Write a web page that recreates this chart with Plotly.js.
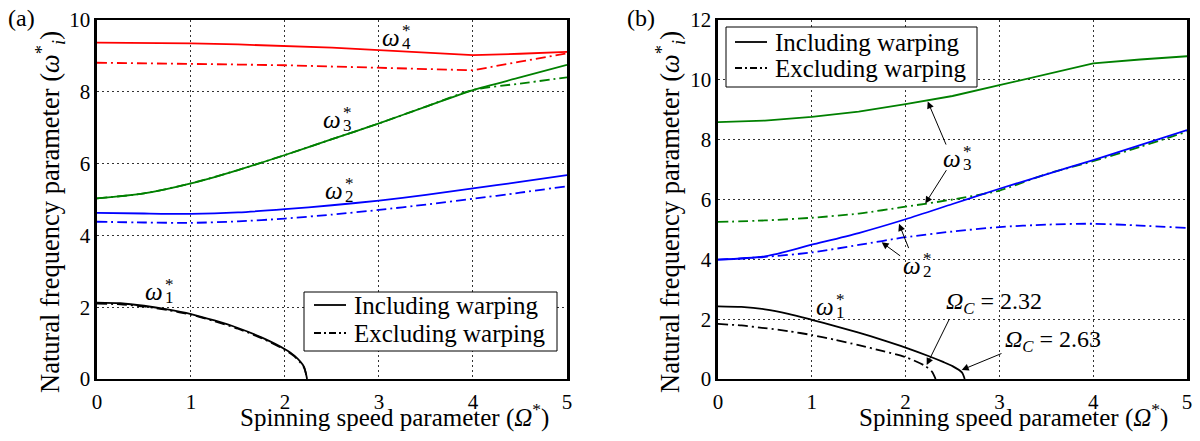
<!DOCTYPE html>
<html>
<head>
<meta charset="utf-8">
<script src="https://cdn.plot.ly/plotly-3.0.1.min.js"></script>
<style>html,body{margin:0;padding:0;background:#fff;}#chart{width:1200px;height:441px;}</style>
</head>
<body>
<div id="chart"></div>
<script>
// ---------- data ----------
const omega = [0, 0.5, 1, 1.5, 2, 2.5, 3, 3.5, 4, 4.5, 5];

// (a)
const w4IncA = [9.37, 9.37, 9.35, 9.32, 9.28, 9.23, 9.16, 9.09, 9.02, 9.06, 9.11];
const w4ExcA = [8.81, 8.80, 8.78, 8.76, 8.74, 8.71, 8.67, 8.64, 8.60, 8.84, 9.07];
const w3IncA = [5.03, 5.17, 5.45, 5.82, 6.24, 6.68, 7.12, 7.59, 8.05, 8.40, 8.75];
const w3ExcA = [5.03, 5.17, 5.45, 5.82, 6.24, 6.68, 7.12, 7.59, 8.05, 8.23, 8.40];
const w2IncA = [4.63, 4.61, 4.60, 4.64, 4.73, 4.84, 4.97, 5.13, 5.31, 5.49, 5.68];
const w2ExcA = [4.38, 4.36, 4.35, 4.39, 4.47, 4.58, 4.71, 4.86, 5.02, 5.19, 5.37];
const omega1A = [0, 0.25, 0.5, 0.75, 1, 1.25, 1.5, 1.75, 2, 2.1, 2.2, 2.235];
const w1IncA = [2.13, 2.11, 2.04, 1.94, 1.81, 1.63, 1.42, 1.16, 0.83, 0.65, 0.35, 0];
const w1ExcA = [2.10, 2.08, 2.02, 1.92, 1.79, 1.61, 1.40, 1.14, 0.81, 0.63, 0.33, 0];

// (b)
const w3IncB = [8.59, 8.64, 8.76, 8.94, 9.19, 9.46, 9.82, 10.19, 10.55, 10.68, 10.79];
const w3ExcB = [5.25, 5.30, 5.39, 5.53, 5.76, 6.00, 6.30, 6.85, 7.28, 7.76, 8.27];
const w2IncB = [3.99, 4.10, 4.49, 4.88, 5.34, 5.85, 6.36, 6.84, 7.32, 7.82, 8.32];
const w2ExcB = [3.99, 4.08, 4.23, 4.48, 4.74, 4.93, 5.08, 5.16, 5.19, 5.13, 5.05];
const omega1IncB = [0, 0.25, 0.5, 0.75, 1, 1.25, 1.5, 1.75, 2, 2.25, 2.4, 2.5, 2.6, 2.63];
const w1IncB = [2.43, 2.41, 2.33, 2.18, 1.98, 1.77, 1.55, 1.31, 1.05, 0.76, 0.57, 0.43, 0.22, 0];
const omega1ExcB = [0, 0.25, 0.5, 0.75, 1, 1.25, 1.5, 1.75, 2, 2.2, 2.28, 2.32];
const w1ExcB = [1.84, 1.79, 1.70, 1.60, 1.47, 1.31, 1.13, 0.94, 0.73, 0.45, 0.25, 0];

const legendNames = ['Including warping', 'Excluding warping'];
const xTicks = [0, 1, 2, 3, 4, 5];
const yTicksA = [0, 2, 4, 6, 8, 10];
const yTicksB = [0, 2, 4, 6, 8, 10, 12];

// ---------- styling ----------
const FONT = '"Liberation Serif", "Times New Roman", serif';
const RED = '#ff0000', GREEN = '#008000', BLUE = '#0000ff', BLACK = '#000000';
const DASHDOT = '10px,4px,2px,4px';
const LEG_DASHDOT = '7px,3px,2px,3px';
const LW = 1.8;
const W = 1200, H = 441;
const px = v => v / W, py = v => 1 - v / H;

function line(x, y, color, dash, xa, ya, kinked) {
  return {x: x, y: y, xaxis: xa, yaxis: ya, mode: 'lines', showlegend: false, hoverinfo: 'skip',
    line: {color: color, width: LW, dash: dash ? DASHDOT : 'solid',
      shape: kinked ? 'linear' : 'spline', smoothing: 0.7}};
}

const traces = [
  line(omega, w4IncA, RED, false, 'x', 'y', true),
  line(omega, w4ExcA, RED, true, 'x', 'y', true),
  line(omega, w3ExcA, GREEN, true, 'x', 'y'),
  line(omega, w3IncA, GREEN, false, 'x', 'y'),
  line(omega, w2IncA, BLUE, false, 'x', 'y'),
  line(omega, w2ExcA, BLUE, true, 'x', 'y'),
  line(omega1A, w1ExcA, BLACK, true, 'x', 'y'),
  line(omega1A, w1IncA, BLACK, false, 'x', 'y'),

  line(omega, w3IncB, GREEN, false, 'x2', 'y2', true),
  line(omega, w3ExcB, GREEN, true, 'x2', 'y2'),
  line(omega, w2IncB, BLUE, false, 'x2', 'y2'),
  line(omega, w2ExcB, BLUE, true, 'x2', 'y2'),
  line(omega1IncB, w1IncB, BLACK, false, 'x2', 'y2'),
  line(omega1ExcB, w1ExcB, BLACK, true, 'x2', 'y2'),
];

const axisBase = {
  showline: true, mirror: true, linecolor: BLACK, linewidth: 2.5,
  showgrid: true, gridcolor: '#333', gridwidth: 1, griddash: '2px,3px',
  zeroline: false, ticks: '', fixedrange: true,
  tickfont: {family: FONT, size: 21, color: BLACK}
};
const yDom = [0.1406, 0.9546];

function wlabel(xr, yr, x, y, sub) {
  return [
    {xref: xr, yref: yr, x: x, y: y, text: '<i>ω</i>', showarrow: false, xanchor: 'right', yanchor: 'middle',
      font: {family: FONT, size: 25, color: BLACK}},
    {xref: xr, yref: yr, x: x, y: y, text: '*', showarrow: false, xanchor: 'left', yanchor: 'middle',
      xshift: -2, yshift: 7, font: {family: FONT, size: 17, color: BLACK}},
    {xref: xr, yref: yr, x: x, y: y, text: sub, showarrow: false, xanchor: 'left', yanchor: 'middle',
      xshift: -2, yshift: -6, font: {family: FONT, size: 17, color: BLACK}}
  ];
}
function arrow(x, y, ax, ay) {
  return {xref: 'x2', yref: 'y2', axref: 'x2', ayref: 'y2', x: x, y: y, ax: ax, ay: ay, text: '',
    showarrow: true, arrowhead: 2, arrowsize: 1.4, arrowwidth: 1, arrowcolor: BLACK};
}

// legend boxes drawn as shapes + text (box: [x0, x1, y0, y1] px; sample line x0,x1; text x; row y's)
const legends = [
  {box: [304, 557, 292, 351], sx: [314, 346], tx: 352, rows: [305, 333]},
  {box: [726, 977, 27, 87], sx: [735, 767], tx: 773, rows: [42, 68]}
];
const shapes = [];
const legendAnn = [];
legends.forEach(function (L) {
  shapes.push({type: 'rect', xref: 'paper', yref: 'paper', x0: px(L.box[0]), x1: px(L.box[1]),
    y0: py(L.box[3]), y1: py(L.box[2]), line: {color: BLACK, width: 1}, fillcolor: '#ffffff', layer: 'above'});
  [0, 1].forEach(function (i) {
    shapes.push({type: 'line', xref: 'paper', yref: 'paper', x0: px(L.sx[0]), x1: px(L.sx[1]),
      y0: py(L.rows[i]), y1: py(L.rows[i]), layer: 'above',
      line: {color: BLACK, width: LW, dash: i === 0 ? 'solid' : LEG_DASHDOT}});
    legendAnn.push({xref: 'paper', yref: 'paper', x: px(L.tx), y: py(L.rows[i]), text: legendNames[i],
      showarrow: false, xanchor: 'left', yanchor: 'middle', font: {family: FONT, size: 25, color: BLACK}});
  });
});

const XT_FONT = {family: FONT, size: 25, color: BLACK};
const YT_FONT = {family: FONT, size: 26.5, color: BLACK};
const annotations = [].concat(
  wlabel('x', 'y', 3.25, 9.51, '4'),
  wlabel('x', 'y', 2.62, 7.24, '3'),
  wlabel('x', 'y', 2.64, 5.26, '2'),
  wlabel('x', 'y', 0.72, 2.45, '1'),
  wlabel('x2', 'y2', 2.61, 7.38, '3'),
  wlabel('x2', 'y2', 2.19, 3.79, '2'),
  wlabel('x2', 'y2', 1.26, 2.41, '1'),
  legendAnn,
  [
    {xref: 'x2', yref: 'y2', x: 2.945, y: 2.55, text: '<i>Ω</i><sub><i>C</i></sub> = 2.32', showarrow: false,
      font: {family: FONT, size: 24, color: BLACK}},
    {xref: 'x2', yref: 'y2', x: 3.57, y: 1.27, text: '<i>Ω</i><sub><i>C</i></sub> = 2.63', showarrow: false,
      font: {family: FONT, size: 24, color: BLACK}},
    arrow(2.236, 9.276, 2.438, 7.787),
    arrow(2.210, 5.867, 2.445, 7.030),
    arrow(1.930, 5.186, 2.039, 4.325),
    arrow(1.745, 4.569, 1.958, 4.080),
    arrow(2.225, 0.469, 2.473, 2.045),
    arrow(2.598, 0.302, 3.038, 0.872),
    // axis titles
    {xref: 'paper', yref: 'paper', x: px(394), y: py(415), text: 'Spinning speed parameter (<i>Ω</i><sup>*</sup>)',
      showarrow: false, xanchor: 'center', yanchor: 'middle', font: XT_FONT},
    {xref: 'paper', yref: 'paper', x: px(1013), y: py(415), text: 'Spinning speed parameter (<i>Ω</i><sup>*</sup>)',
      showarrow: false, xanchor: 'center', yanchor: 'middle', font: XT_FONT},
    {xref: 'paper', yref: 'paper', x: px(50), y: py(212), text: 'Natural frequency parameter (<i>ω</i><sup>*</sup><sub><i>i</i></sub>)',
      textangle: -90, showarrow: false, xanchor: 'center', yanchor: 'middle', font: YT_FONT},
    {xref: 'paper', yref: 'paper', x: px(670), y: py(212), text: 'Natural frequency parameter (<i>ω</i><sup>*</sup><sub><i>i</i></sub>)',
      textangle: -90, showarrow: false, xanchor: 'center', yanchor: 'middle', font: YT_FONT},
    // panel labels
    {xref: 'paper', yref: 'paper', x: px(21), y: py(18), text: '(a)', showarrow: false, xanchor: 'center', yanchor: 'middle',
      font: {family: FONT, size: 24, color: BLACK}},
    {xref: 'paper', yref: 'paper', x: px(641), y: py(18), text: '(b)', showarrow: false, xanchor: 'center', yanchor: 'middle',
      font: {family: FONT, size: 24, color: BLACK}}
  ]
);

const layout = {
  width: W, height: H, margin: {l: 0, r: 0, t: 0, b: 0},
  paper_bgcolor: '#ffffff', plot_bgcolor: '#ffffff',
  font: {family: FONT, size: 20, color: BLACK},
  showlegend: false,
  xaxis: Object.assign({}, axisBase, {domain: [0.0808, 0.4725], range: [0, 5], tickvals: xTicks, anchor: 'y', ticklabelstandoff: 2}),
  yaxis: Object.assign({}, axisBase, {domain: yDom, range: [0, 10], tickvals: yTicksA, anchor: 'x'}),
  xaxis2: Object.assign({}, axisBase, {domain: [0.5983, 0.9892], range: [0, 5], tickvals: xTicks, anchor: 'y2', ticklabelstandoff: 2}),
  yaxis2: Object.assign({}, axisBase, {domain: yDom, range: [0, 12], tickvals: yTicksB, anchor: 'x2'}),
  shapes: shapes,
  annotations: annotations
};

Plotly.newPlot('chart', traces, layout, {staticPlot: true, displayModeBar: false});
</script>
</body>
</html>
